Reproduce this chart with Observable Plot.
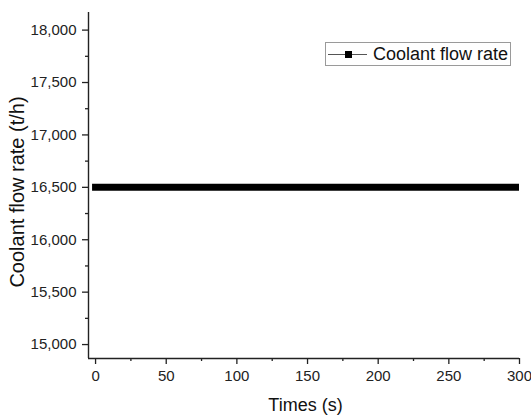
<!DOCTYPE html>
<html><head><meta charset="utf-8">
<script src="https://cdn.jsdelivr.net/npm/d3@7"></script>
<script src="https://cdn.jsdelivr.net/npm/@observablehq/plot@0.6"></script>
<style>
body{margin:0;background:#fff;}
#wrap{position:relative;width:531px;height:419px;font-family:"Liberation Sans",Arial,sans-serif;}
#legend{position:absolute;left:325px;top:42px;width:186px;height:24px;border:1px solid #9a9a9a;box-sizing:border-box;background:#fff;}
#legend .ln{position:absolute;left:2px;top:10.5px;width:39px;height:1px;background:#555;}
#legend .sq{position:absolute;left:19px;top:7.5px;width:7px;height:7px;background:#000;}
#legend .tx{position:absolute;left:47px;top:0px;line-height:22px;font-size:18px;color:#111;white-space:nowrap;}
</style></head>
<body><div id="wrap"></div>
<script>
const times = [0, 50, 100, 150, 200, 250, 300];
const flowRate = [16500, 16500, 16500, 16500, 16500, 16500, 16500];
const xTicks = [0, 50, 100, 150, 200, 250, 300];
const xMinorTicks = [25, 75, 125, 175, 225, 275];
const yTicks = [15000, 15500, 16000, 16500, 17000, 17500, 18000];
const yMinorTicks = [15250, 15750, 16250, 16750, 17250, 17750];
const seriesName = "Coolant flow rate";
const xLabel = "Times (s)";
const yLabel = "Coolant flow rate (t/h)";

const data = times.map((t, i) => ({t, v: flowRate[i]}));
const xDomain = [-5, 300];
const yDomain = [14867, 18168];
const ink = "#222";

const plot = Plot.plot({
  width: 531, height: 419,
  marginLeft: 88, marginRight: 12, marginTop: 12, marginBottom: 61,
  style: {fontFamily: "'Liberation Sans', Arial, sans-serif", fontSize: "15px", color: ink, background: "#fff", overflow: "visible"},
  x: {domain: xDomain},
  y: {domain: yDomain},
  marks: [
    Plot.axisX({ticks: xTicks, tickSize: 6, tickPadding: 6, tickFormat: d => String(d), label: null, fontSize: 15, strokeWidth: 1.3}),
    Plot.axisX({ticks: xMinorTicks, tickSize: 3, tickFormat: () => "", label: null, strokeWidth: 1.3}),
    Plot.axisY({ticks: yTicks, tickSize: 6, tickPadding: 6, tickFormat: d3.format(","), label: null, fontSize: 15, strokeWidth: 1.3}),
    Plot.axisY({ticks: yMinorTicks, tickSize: 3, tickFormat: () => "", label: null, strokeWidth: 1.3}),
    Plot.ruleX([xDomain[0]], {stroke: ink, strokeWidth: 1.4}),
    Plot.ruleY([yDomain[0]], {stroke: ink, strokeWidth: 1.4}),
    Plot.line(data, {x: "t", y: "v", stroke: "#000", strokeWidth: 7, strokeLinecap: "square", clip: true}),
    Plot.text([yLabel], {frameAnchor: "left", textAnchor: "middle", lineAnchor: "middle", dx: -71, dy: 6.5, rotate: -90, fontSize: 20, fill: "#111"}),
    Plot.text([xLabel], {frameAnchor: "bottom", textAnchor: "middle", lineAnchor: "middle", dx: 1.5, dy: 47, fontSize: 18, fill: "#111"})
  ]
});
const wrap = document.getElementById("wrap");
wrap.appendChild(plot);

const legend = document.createElement("div");
legend.id = "legend";
legend.innerHTML = `<div class="ln"></div><div class="sq"></div><span class="tx"></span>`;
legend.querySelector(".tx").textContent = seriesName;
wrap.appendChild(legend);
</script>
</body></html>
